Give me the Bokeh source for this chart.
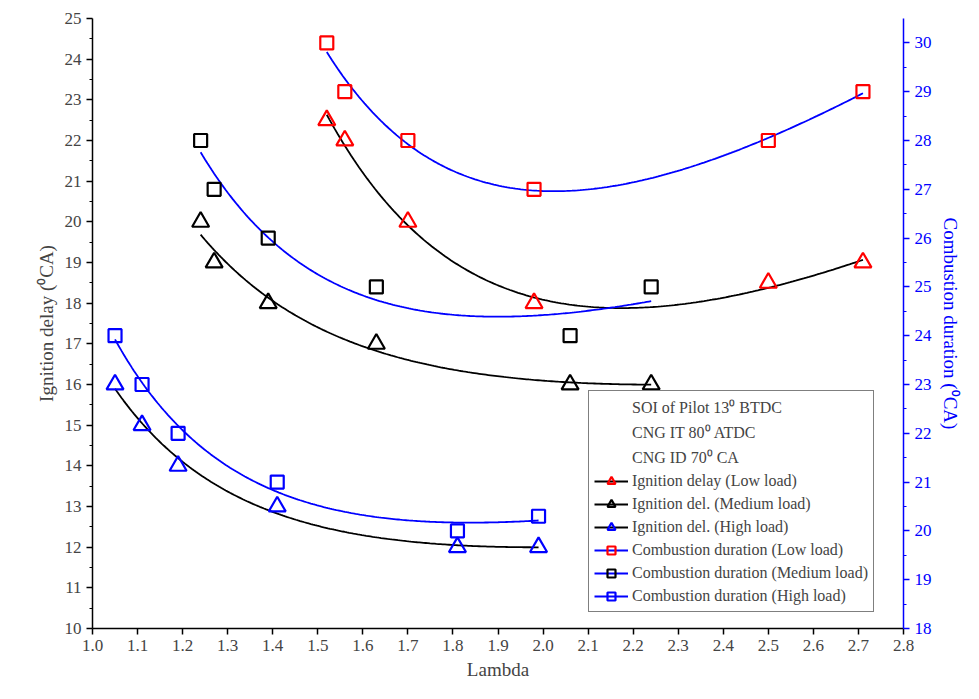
import numpy as np
from bokeh.plotting import figure
from bokeh.models import LinearAxis, Range1d, Legend, LegendItem, FixedTicker, CustomJSTickFormatter
from bokeh.embed import file_html
from bokeh.resources import INLINE

ign_low_x = [1.52, 1.56, 1.70, 1.98, 2.50, 2.71]
ign_low_y = [22.5, 22.0, 20.0, 18.0, 18.5, 19.0]
ign_med_x = [1.24, 1.27, 1.39, 1.63, 2.06, 2.24]
ign_med_y = [20.0, 19.0, 18.0, 17.0, 16.0, 16.0]
ign_high_x = [1.05, 1.11, 1.19, 1.41, 1.81, 1.99]
ign_high_y = [16.0, 15.0, 14.0, 13.0, 12.0, 12.0]
cd_low_x = [1.52, 1.56, 1.70, 1.98, 2.50, 2.71]
cd_low_y = [30.0, 29.0, 28.0, 27.0, 28.0, 29.0]
cd_med_x = [1.24, 1.27, 1.39, 1.63, 2.06, 2.24]
cd_med_y = [28.0, 27.0, 26.0, 25.0, 24.0, 25.0]
cd_high_x = [1.05, 1.11, 1.19, 1.41, 1.81, 1.99]
cd_high_y = [24.0, 23.0, 22.0, 21.0, 20.0, 20.3]

FONT = "'Liberation Serif', 'Times New Roman', serif"

def fit(xs, ys):
    xs = np.array(xs); ys = np.array(ys)
    A = np.vstack([np.ones_like(xs), 1/xs**3, xs]).T
    c, *_ = np.linalg.lstsq(A, ys, rcond=None)
    xx = np.linspace(xs.min(), xs.max(), 200)
    return xx, c[0] + c[1]/xx**3 + c[2]*xx

p = figure(width=963, height=683, output_backend="svg", toolbar_location=None,
           x_range=Range1d(1.0, 2.8), y_range=Range1d(10, 25),
           min_border_left=92, min_border_right=55, min_border_top=18, min_border_bottom=55)
p.outline_line_color = None
p.grid.visible = False
p.extra_y_ranges = {"r": Range1d(18, 30.5)}

def style(ax):
    ax.major_label_text_font = FONT
    ax.major_label_text_font_size = "17px"
    ax.axis_label_text_font = FONT
    ax.axis_label_text_font_size = "19px"
    ax.axis_label_text_font_style = "normal"
    ax.axis_line_width = 1.5
    ax.major_tick_line_width = 1.5
    ax.major_tick_out = 6
    ax.major_tick_in = 0
    ax.minor_tick_out = 3
    ax.minor_tick_in = 0

style(p.xaxis[0]); style(p.yaxis[0])
p.xaxis.axis_label = "Lambda"
p.xaxis.ticker = FixedTicker(ticks=[round(1.0 + 0.1*i, 1) for i in range(19)], minor_ticks=[])
p.xaxis.formatter = CustomJSTickFormatter(code="return tick.toFixed(1);")
p.yaxis.axis_label = "Ignition delay (⁰CA)"
p.yaxis.ticker = FixedTicker(ticks=list(range(10, 26)), minor_ticks=[10.5 + i for i in range(15)])

ra = LinearAxis(y_range_name="r", axis_label="Combustion duration (⁰CA)")
ra.ticker = FixedTicker(ticks=list(range(18, 31)), minor_ticks=[18.5 + i for i in range(12)])
style(ra)
for k in ["axis_line_color", "major_tick_line_color", "minor_tick_line_color",
          "major_label_text_color", "axis_label_text_color"]:
    setattr(ra, k, "blue")
p.add_layout(ra, "right")

items = []
for t in ["SOI of Pilot 13⁰ BTDC", "CNG IT 80⁰ ATDC", "CNG ID 70⁰ CA"]:
    r = p.scatter([], [], size=0, alpha=0)
    items.append(LegendItem(label=t, renderers=[r]))

series = [
    (ign_low_x, ign_low_y, "triangle", "red", "black", None, "Ignition delay (Low load)"),
    (ign_med_x, ign_med_y, "triangle", "black", "black", None, "Ignition del. (Medium load)"),
    (ign_high_x, ign_high_y, "triangle", "blue", "black", None, "Ignition del. (High load)"),
    (cd_low_x, cd_low_y, "square", "red", "blue", "r", "Combustion duration (Low load)"),
    (cd_med_x, cd_med_y, "square", "black", "blue", "r", "Combustion duration (Medium load)"),
    (cd_high_x, cd_high_y, "square", "blue", "blue", "r", "Combustion duration (High load)"),
]
for xs, ys, m, mc, lc, rn, lab in series:
    kw = {"y_range_name": rn} if rn else {}
    xx, yy = fit(xs, ys)
    ln = p.line(xx, yy, line_color=lc, line_width=1.8, **kw)
    sc = p.scatter(xs, ys, marker=m, size=17 if m == "triangle" else 13,
                   line_color=mc, fill_color=None, line_width=2.2, **kw)
    items.append(LegendItem(label=lab, renderers=[ln, sc]))

leg = Legend(items=items, location=(496, 16), label_text_font=FONT,
             label_text_font_size="16px", label_height=20, glyph_height=20, glyph_width=34,
             spacing=3, padding=5, margin=0, label_standoff=4,
             border_line_color="black", border_line_width=1)
p.add_layout(leg, "center")

open("out.html", "w").write(file_html(p, INLINE))
